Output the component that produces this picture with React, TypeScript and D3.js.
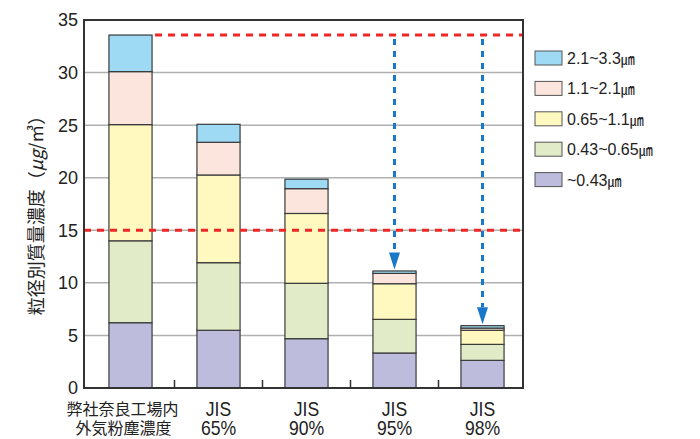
import React from "react";
import * as d3 from "d3";

const categories = ["factory", "JIS65", "JIS90", "JIS95", "JIS98"];
const labelLine1 = ["弊社奈良工場内", "JIS", "JIS", "JIS", "JIS"];
const labelLine2 = ["外気粉塵濃度", "65%", "90%", "95%", "98%"];

const seriesNames = ["~0.43", "0.43~0.65", "0.65~1.1", "1.1~2.1", "2.1~3.3"];
const unitLabel = "㎛";
const s_043 = [6.21, 5.49, 4.69, 3.33, 2.63];
const s_043_065 = [7.79, 6.43, 5.27, 3.2, 1.52];
const s_065_11 = [11.05, 8.34, 6.64, 3.39, 1.34];
const s_11_21 = [5.04, 3.11, 2.36, 0.98, 0.21];
const s_21_33 = [3.48, 1.71, 0.9, 0.23, 0.23];
const seriesColors = ["#bdbcdc", "#e2ebc8", "#fff9c0", "#fce5dc", "#9fdaf5"];

const yTicks = [0, 5, 10, 15, 20, 25, 30, 35];
const limitLine = 15;
const arrowTargets = [3, 4];

const W = 700, H = 439;
const plotL = 84, plotR = 523, plotT = 20, plotB = 388;

export default function App() {
  const y = d3.scaleLinear().domain([0, 35]).range([plotB, plotT]);
  const x = d3.scaleBand<string>().domain(categories).range([86.5, 526.5]).paddingInner(0.51).paddingOuter(0.255);
  const seriesData = [s_043, s_043_065, s_065_11, s_11_21, s_21_33];
  const rows = categories.map((c, i) => {
    const r: any = { cat: c };
    seriesData.forEach((s, k) => (r["s" + k] = s[i]));
    return r;
  });
  const keys = seriesData.map((_, k) => "s" + k);
  const stacked = d3.stack().keys(keys)(rows);
  const totals = categories.map((_, i) => stacked[stacked.length - 1][i][1]);
  const bw = x.bandwidth();
  const step = x.step();
  const topRef = totals[0];
  const boundaries = categories.slice(1).map((c) => (x(c) as number) - (step - bw) / 2);

  const legendRows = seriesNames.map((n, k) => ({ name: n, color: seriesColors[k] })).reverse();

  return (
    <svg width={W} height={H} style={{ position: "absolute", left: 0, top: 0, background: "#fff" }}
      fontFamily="'Liberation Sans', Arial, sans-serif">
      {/* grid */}
      {yTicks.filter((t) => t > 0 && t < 35).map((t) => (
        <line key={t} x1={plotL} x2={plotR} y1={y(t)} y2={y(t)} stroke="#b0b0b0" strokeWidth={1.5} />
      ))}
      {/* bars */}
      {stacked.map((layer, k) => (
        <g key={k}>
          {layer.map((d, i) => (
            <rect key={i} x={x(categories[i])} width={bw} y={y(d[1])} height={y(d[0]) - y(d[1])}
              fill={seriesColors[k]} stroke="#3a3a3a" strokeWidth={1.2} />
          ))}
        </g>
      ))}
      {/* red dashed lines */}
      <line x1={plotL} x2={plotR} y1={y(limitLine)} y2={y(limitLine)} stroke="#ee2626" strokeWidth={3} strokeDasharray="7,6" />
      <line x1={(x(categories[0]) as number) + bw + 3} x2={plotR} y1={y(topRef)} y2={y(topRef)} stroke="#ee2626" strokeWidth={3} strokeDasharray="7,6" />
      {/* blue arrows */}
      {arrowTargets.map((i) => {
        const cx = (x(categories[i]) as number) + bw / 2;
        const tipY = y(totals[i]) - 1.5;
        const headH = 17;
        return (
          <g key={i}>
            <line x1={cx} x2={cx} y1={y(topRef) + 4} y2={tipY - headH} stroke="#1a78c8" strokeWidth={3} strokeDasharray="6,6" />
            <path d={`M${cx - 5.5},${tipY - headH} L${cx + 5.5},${tipY - headH} L${cx},${tipY} Z`} fill="#1a78c8" />
          </g>
        );
      })}
      {/* frame */}
      <rect x={plotL} y={plotT} width={plotR - plotL} height={plotB - plotT} fill="none" stroke="#333" strokeWidth={2} />
      {/* bottom ticks */}
      {boundaries.map((bx, i) => (
        <line key={i} x1={bx} x2={bx} y1={plotB} y2={plotB - 8} stroke="#333" strokeWidth={1.5} />
      ))}
      {/* y tick labels */}
      {yTicks.map((t) => (
        <text key={t} x={78} y={y(t)} dy="0.36em" textAnchor="end" fontSize={18} fill="#222">{t}</text>
      ))}
      {/* y axis title */}
      <text transform={`translate(43,211) rotate(-90)`} textAnchor="middle" fontSize={18} fill="#222"
        fontFamily="'Noto Sans CJK JP', sans-serif">
        粒径別質量濃度（<tspan fontStyle="italic">μg</tspan>/㎥）
      </text>
      {/* x labels */}
      {categories.map((c, i) => {
        const cx = (x(c) as number) + bw / 2;
        if (i === 0) {
          return (
            <g key={c} fontFamily="'Noto Sans CJK JP', sans-serif" fontSize={16} fill="#222">
              <text x={cx - 8} y={415} textAnchor="middle">{labelLine1[i]}</text>
              <text x={cx - 7} y={434} textAnchor="middle">{labelLine2[i]}</text>
            </g>
          );
        }
        return (
          <g key={c} transform={`translate(${cx},0) scale(0.88,1)`} fontSize={20} fill="#222">
            <text x={0} y={416} textAnchor="middle">{labelLine1[i]}</text>
            <text x={0} y={435} textAnchor="middle">{labelLine2[i]}</text>
          </g>
        );
      })}
      {/* legend */}
      {legendRows.map((r, j) => (
        <g key={j} transform={`translate(535,${51 + j * 30.4})`}>
          <rect x={0} y={0} width={27} height={14} fill={r.color} stroke="#555" strokeWidth={1} />
          <text x={32} y={13} fontSize={16} fill="#222">
            {r.name}
            <tspan fontFamily="'Noto Sans CJK JP', sans-serif" fontSize={14}>{unitLabel}</tspan>
          </text>
        </g>
      ))}
    </svg>
  );
}
